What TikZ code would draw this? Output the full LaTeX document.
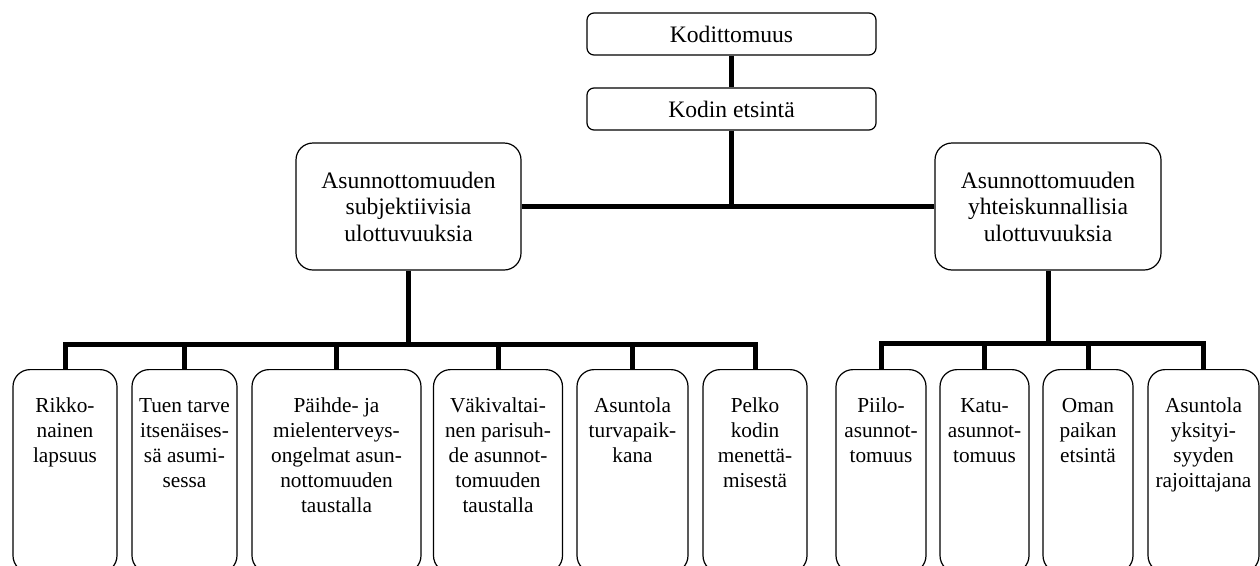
\documentclass[tikz,border=0pt]{standalone}
\usepackage{fontspec}
\setmainfont{Liberation Serif}
\newcommand{\toptext}[2]{\vbox to #1{\kern 25.5pt\hbox{\begin{tabular}{@{}c@{}}#2\end{tabular}}\vfil}}
\begin{document}
\begin{tikzpicture}[x=1pt,y=-1pt,
  every node/.style={font=\fontsize{23.6}{26.5}\selectfont, inner sep=0pt},
  topbox/.style={draw, line width=1.2pt, rounded corners=7pt, minimum width=289pt, minimum height=42pt},
  midbox/.style={draw, line width=1.2pt, rounded corners=17pt, align=center},
  leafbox/.style={draw, line width=1.2pt, rounded corners=17pt, anchor=north, minimum height=203pt,
    font=\fontsize{21.3}{25}\selectfont},
  conn/.style={line width=5pt}]
\useasboundingbox (0,0) rectangle (1260,565);
\clip (0,0) rectangle (1260,565);
% top
\node[topbox] (kod) at (731.5,34) {Kodittomuus};
\node[topbox] (ets) at (731.5,109) {Kodin etsintä};
% middle
\node[midbox, minimum width=225pt, minimum height=127pt] (lm) at (408.5,206.5)
  {Asunnottomuuden\\subjektiivisia\\ulottuvuuksia};
\node[midbox, minimum width=226pt, minimum height=127pt] (rm) at (1048,206.5)
  {Asunnottomuuden\\yhteiskunnallisia\\ulottuvuuksia};
% leaves left
\node[leafbox, minimum width=104pt] (b1) at (65,369) {\toptext{203pt}{Rikko-\\nainen\\lapsuus}};
\node[leafbox, minimum width=105pt] (b2) at (184.5,369) {\toptext{203pt}{Tuen tarve\\itsenäises-\\sä asumi-\\sessa}};
\node[leafbox, minimum width=169pt] (b3) at (336.5,369) {\toptext{203pt}{Päihde- ja\\mielenterveys-\\ongelmat asun-\\nottomuuden\\taustalla}};
\node[leafbox, minimum width=129pt] (b4) at (498,369) {\toptext{203pt}{Väkivaltai-\\nen parisuh-\\de asunnot-\\tomuuden\\taustalla}};
\node[leafbox, minimum width=111pt] (b5) at (632.5,369) {\toptext{203pt}{Asuntola\\turvapaik-\\kana}};
\node[leafbox, minimum width=104pt] (b6) at (755,369) {\toptext{203pt}{Pelko\\kodin\\menettä-\\misestä}};
% leaves right
\node[leafbox, minimum width=90pt] (b7) at (881,369) {\toptext{203pt}{Piilo-\\asunnot-\\tomuus}};
\node[leafbox, minimum width=89pt] (b8) at (984.5,369) {\toptext{203pt}{Katu-\\asunnot-\\tomuus}};
\node[leafbox, minimum width=90pt] (b9) at (1088,369) {\toptext{203pt}{Oman\\paikan\\etsintä}};
\node[leafbox, minimum width=111pt] (b10) at (1203.5,369) {\toptext{203pt}{Asuntola\\yksityi-\\syyden\\rajoittajana}};
% connectors
\coordinate (lbar) at (408.5,344);
\coordinate (rbar) at (1048,343);
\draw[conn] (kod.south) -- (ets.north);
\draw[conn] (ets.south) -- (ets.south |- lm.east);
\draw[conn] (lm.east) -- (rm.west);
\draw[conn] (lm.south) -- (lbar);
\draw[conn] (rm.south) -- (rbar);
\foreach \b in {b1,b2,b3,b4,b5,b6} \draw[conn] (\b.north) |- (lbar);
\foreach \b in {b7,b8,b9,b10} \draw[conn] (\b.north) |- (rbar);
\end{tikzpicture}
\end{document}
